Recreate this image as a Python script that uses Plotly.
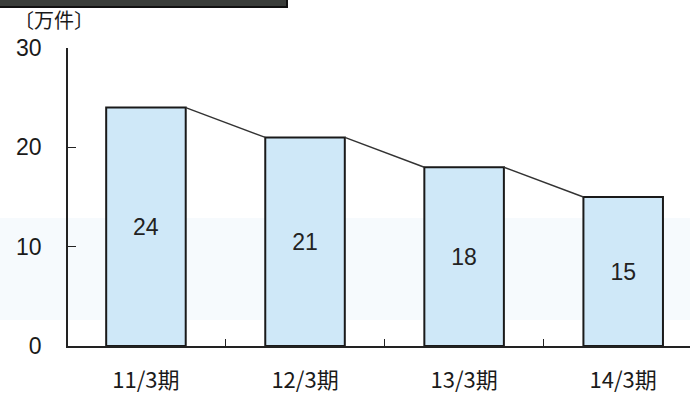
import plotly.graph_objects as go

# Fiscal periods and counts (unit: 10,000 cases)
periods = ["11/3期", "12/3期", "13/3期", "14/3期"]
counts = [24, 21, 18, 15]
y_ticks = [0, 10, 20, 30]

BAR_W = 0.5
X_RANGE = [-0.49, 3.42]

# Plot-area geometry in pixels (used to place paper-referenced decorations)
W, H = 690, 393
L, R, T, B = 68, 0, 48, 47
PW, PH = W - L - R, H - T - B


def px_x(p):
    return (p - L) / PW


def px_y(p):
    return (H - B - p) / PH


fig = go.Figure()

fig.add_trace(go.Bar(
    x=periods,
    y=counts,
    width=BAR_W,
    marker=dict(color="#cfe8f8", line=dict(color="#1a1a1a", width=2)),
    text=[str(v) for v in counts],
    textposition="inside",
    insidetextanchor="middle",
    textfont=dict(family="Liberation Sans, Arial, sans-serif", size=23, color="#222222"),
    showlegend=False,
    hoverinfo="skip",
))

# Connector lines from the top-right corner of each bar to the top-left of the next
cx, cy = [], []
for i in range(len(counts) - 1):
    cx += [i + BAR_W / 2, i + 1 - BAR_W / 2, None]
    cy += [counts[i], counts[i + 1], None]

fig.add_trace(go.Scatter(
    x=cx, y=cy, xaxis="x2", yaxis="y",
    mode="lines",
    line=dict(color="#333333", width=1.5),
    showlegend=False,
    hoverinfo="skip",
))

fig.update_layout(
    width=W, height=H,
    margin=dict(l=L, r=R, t=T, b=B),
    paper_bgcolor="white",
    plot_bgcolor="rgba(0,0,0,0)",
    bargap=0.5,
    xaxis=dict(
        type="category",
        range=X_RANGE,
        automargin=False,
        tickson="boundaries",
        ticks="inside", ticklen=7, tickwidth=1.2, tickcolor="#222222",
        showline=True, linecolor="#222222", linewidth=1.5,
        showgrid=False, zeroline=False,
        tickfont=dict(family="Noto Sans CJK JP, sans-serif", size=22, color="#1a1a1a"),
        ticklabelstandoff=14,
    ),
    xaxis2=dict(
        overlaying="x", range=X_RANGE, visible=False,
        showgrid=False, zeroline=False,
    ),
    yaxis=dict(
        range=[0, 30],
        automargin=False,
        tickvals=y_ticks,
        ticks="inside", ticklen=8, tickwidth=1.2, tickcolor="#222222",
        showline=True, linecolor="#222222", linewidth=1.5,
        showgrid=False, zeroline=False,
        tickfont=dict(family="Liberation Sans, Arial, sans-serif", size=23, color="#1a1a1a"),
        ticklabelstandoff=20,
    ),
    annotations=[dict(
        text="〔万件〕",
        xref="paper", yref="paper",
        x=px_x(12), y=px_y(20),
        xanchor="left", yanchor="middle",
        showarrow=False,
        font=dict(family="Noto Sans CJK JP, sans-serif", size=20, color="#1a1a1a"),
    )],
    shapes=[
        # header rule across the top-left
        dict(type="rect", xref="paper", yref="paper",
             x0=px_x(-2), x1=px_x(287), y0=px_y(7), y1=px_y(-4),
             fillcolor="#3a3d3a", line=dict(color="#111111", width=2), layer="above"),
        # faint tint band across the lower half of the page
        dict(type="rect", xref="paper", yref="paper",
             x0=px_x(0), x1=px_x(W), y0=px_y(320), y1=px_y(218),
             fillcolor="#f6fafd", line=dict(width=0), layer="below"),
    ],
)

fig.write_html("out.html")
